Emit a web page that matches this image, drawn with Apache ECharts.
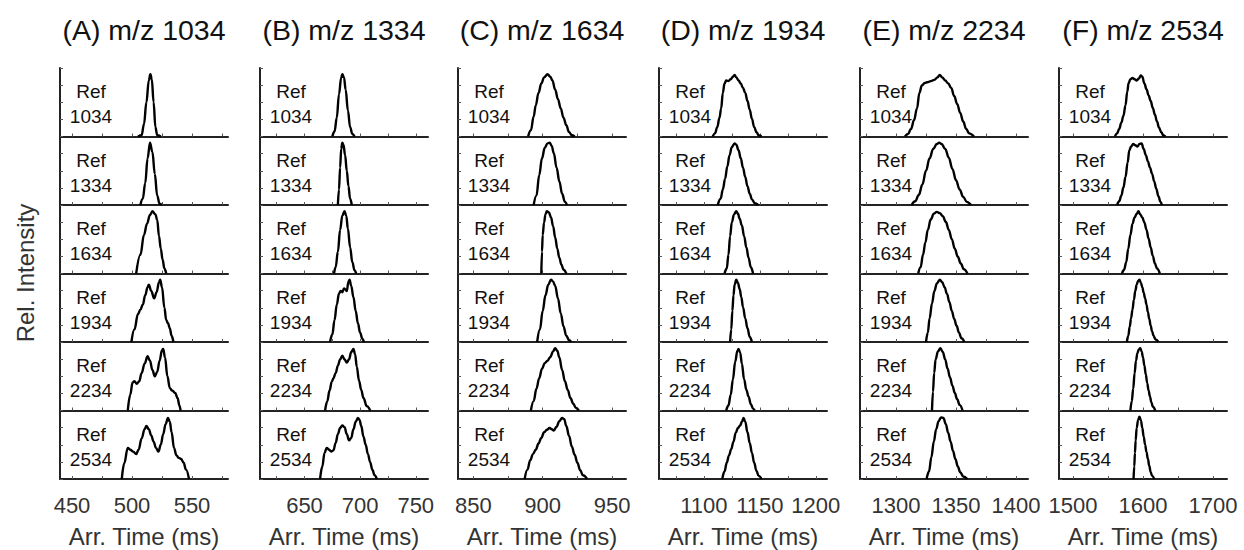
<!DOCTYPE html>
<html><head><meta charset="utf-8">
<script src="https://cdn.jsdelivr.net/npm/echarts@6/dist/echarts.min.js"></script>
<style>html,body{margin:0;padding:0;background:#fff}#chart{width:1244px;height:550px}</style>
</head><body><div id="chart"></div>
<script>
// ---------------- data ----------------
const columnTitles = ['(A) m/z 1034', '(B) m/z 1334', '(C) m/z 1634', '(D) m/z 1934', '(E) m/z 2234', '(F) m/z 2534'];
const refLabels = ['1034', '1334', '1634', '1934', '2234', '2534'];
const xMin = [440, 610, 839, 1060, 1270, 1480];
const xMax = [580, 761, 960, 1210, 1410, 1720];
const xTickValues = [
  [450, 475, 500, 525, 550, 575],
  [625, 650, 675, 700, 725, 750],
  [850, 875, 900, 925, 950],
  [1075, 1100, 1125, 1150, 1175, 1200],
  [1275, 1300, 1325, 1350, 1375, 1400],
  [1500, 1550, 1600, 1650, 1700]
];
const xLabelValues = [
  [450, 500, 550],
  [650, 700, 750],
  [850, 900, 950],
  [1100, 1150, 1200],
  [1300, 1350, 1400],
  [1500, 1600, 1700]
];
const yMax = 1.1;
const xAxisName = 'Arr. Time (ms)';
const yAxisName = 'Rel. Intensity';

// arrival-time profiles [time ms, relative intensity], one list per reference row
const profilesA = [
  [[505,0],[508,0.02],[510,0.2],[512,0.55],[514,0.9],[515.3,1],[516.5,0.92],[518,0.55],[519.5,0.15],[521,0.02],[524,0]],
  [[507,0],[509,0.1],[511,0.35],[513,0.75],[515,1],[517,0.85],[519,0.5],[521,0.15],[523,0.02],[525,0]],
  [[503.5,0],[507,0.3],[510,0.62],[512.5,0.8],[515,0.94],[517,1],[519.5,0.95],[521,0.86],[522.5,0.6],[524,0.4],[525.5,0.22],[527,0.08],[528.5,0]],
  [[499.5,0],[502,0.2],[505,0.45],[507,0.52],[509,0.6],[511,0.75],[513,0.88],[514,0.92],[516,0.82],[518.5,0.7],[520.5,0.8],[522.5,0.96],[523.5,1],[525,0.88],[527,0.55],[528.5,0.35],[530,0.3],[531.5,0.22],[533,0.1],[534.5,0]],
  [[496.5,0],[498.5,0.25],[500.5,0.45],[502,0.47],[504,0.43],[506,0.47],[508,0.6],[510.5,0.75],[513,0.87],[515,0.8],[517,0.65],[519,0.55],[521,0.62],[523,0.8],[525,0.97],[526,0.99],[527.5,0.85],[529.5,0.55],[531.5,0.36],[533.5,0.32],[536,0.28],[538,0.2],[539.5,0.08],[540.5,0]],
  [[491.5,0],[493.5,0.25],[496.5,0.5],[498.5,0.47],[501,0.44],[503.5,0.4],[505.5,0.47],[508,0.65],[510.5,0.8],[512,0.85],[514,0.8],[516,0.7],[518,0.6],[520,0.5],[522,0.44],[524,0.55],[526,0.72],[528,0.88],[530,0.98],[531.5,0.92],[533,0.75],[535,0.5],[537,0.38],[539,0.34],[541,0.32],[543,0.26],[545,0.15],[547.5,0]]
];
const profilesB = [
  [[675,0],[677,0.08],[679,0.3],[681,0.68],[683,0.95],[684,1],[685.5,0.95],[687,0.75],[689,0.42],[691,0.15],[693,0.04],[695,0]],
  [[680,0],[681,0.25],[682,0.6],[683,0.9],[684,1],[685,0.97],[686.5,0.8],[688,0.55],[689.5,0.3],[691,0.1],[692.5,0]],
  [[676.5,0],[678,0.1],[680,0.35],[682,0.7],[684,0.93],[686,1],[687.5,0.93],[689,0.72],[691,0.42],[693,0.18],[695,0.05],[696.5,0]],
  [[673,0],[675,0.12],[677,0.35],[679,0.6],[681,0.78],[682.5,0.82],[684,0.8],[685.5,0.86],[687,0.84],[688,0.82],[689.5,0.97],[690.5,1],[692,0.9],[694,0.72],[696,0.5],[698,0.3],[700,0.15],[702,0.05],[703.5,0]],
  [[668.5,0],[670.5,0.15],[672.5,0.32],[674.5,0.46],[676,0.52],[678,0.6],[680,0.72],[682,0.82],[684,0.88],[686,0.82],[688,0.77],[690,0.82],[692,0.94],[694,0.99],[695.5,0.9],[697,0.7],[699,0.48],[701,0.33],[703,0.2],[706,0.07],[709,0]],
  [[664,0],[666,0.2],[668,0.42],[670,0.5],[672,0.47],[674,0.44],[676,0.46],[678,0.58],[680,0.72],[682,0.82],[684,0.86],[686,0.83],[688,0.72],[690,0.62],[692,0.66],[694,0.8],[696,0.92],[698,0.98],[699.5,0.95],[701,0.85],[703,0.68],[705,0.55],[707,0.4],[709,0.27],[711,0.15],[713,0.06],[715,0]]
];
const profilesC = [
  [[889.5,0],[891.5,0.1],[893.5,0.32],[895,0.5],[897,0.7],[899,0.85],[901,0.95],[903.5,1],[905.5,0.96],[907,0.9],[909,0.75],[911,0.6],[913,0.45],[915,0.3],[917,0.18],[919,0.07],[921,0.02],[923,0]],
  [[893.5,0],[895.5,0.15],[897.5,0.48],[899.5,0.75],[901.5,0.92],[903.5,0.99],[905,1],[906.5,0.95],[908,0.83],[910,0.6],[912,0.38],[914,0.18],[916,0.05],[917.5,0]],
  [[899,0],[899.5,0.35],[900,0.62],[901,0.82],[902,0.95],[903,1],[904.5,0.98],[906,0.9],[907.5,0.76],[909,0.58],[910.5,0.4],[912,0.25],[913.5,0.14],[915,0.06],[917,0]],
  [[896,0],[898,0.2],[900,0.5],[902,0.75],[904,0.92],[906,1],[907.5,0.97],[909,0.9],[911,0.7],[913,0.46],[915,0.25],[917,0.1],[919,0.03],[920.5,0]],
  [[891.5,0],[893.5,0.15],[895.5,0.35],[897.5,0.52],[899.5,0.67],[901.5,0.76],[903.5,0.8],[905.5,0.86],[907.5,0.95],[909,1],[910.5,0.96],[912,0.85],[914,0.65],[916,0.47],[918,0.33],[920,0.2],[922,0.11],[924,0.04],[926,0]],
  [[887,0],[889,0.15],[891,0.3],[893,0.4],[895,0.47],[897,0.57],[899,0.66],[901,0.75],[903,0.79],[905,0.82],[906.5,0.8],[908,0.78],[910,0.84],[912,0.93],[914,0.98],[915.5,0.96],[917,0.85],[919,0.69],[921,0.52],[923,0.39],[925,0.26],[927,0.14],[929,0.06],[932,0]]
];
const profilesD = [
  [[1108,0],[1110,0.05],[1112,0.15],[1114,0.3],[1115.5,0.45],[1117,0.7],[1118.5,0.85],[1120,0.9],[1122,0.89],[1124,0.92],[1126,0.96],[1127.5,0.99],[1129,0.95],[1131,0.9],[1133,0.85],[1135,0.78],[1137,0.7],[1139,0.57],[1141,0.43],[1143,0.28],[1145,0.15],[1147,0.07],[1149,0.02],[1151.5,0]],
  [[1112.5,0],[1115,0.1],[1117,0.25],[1119,0.42],[1121,0.62],[1123,0.8],[1125,0.93],[1127.5,0.99],[1129,0.97],[1131,0.88],[1133,0.75],[1135,0.6],[1137,0.45],[1139,0.3],[1141,0.18],[1143,0.09],[1145.5,0.03],[1148.5,0]],
  [[1118.5,0],[1120.5,0.08],[1122,0.3],[1123.5,0.6],[1125,0.82],[1127,0.95],[1129,1],[1130.5,0.96],[1132,0.88],[1134,0.77],[1136,0.6],[1138,0.42],[1140,0.25],[1142,0.1],[1144,0]],
  [[1123.5,0],[1124.5,0.2],[1125.5,0.5],[1126.5,0.75],[1127.5,0.92],[1129,1],[1130.5,0.95],[1132,0.85],[1133.5,0.72],[1135,0.56],[1137,0.38],[1139,0.22],[1141,0.08],[1143,0]],
  [[1120,0],[1122,0.08],[1124,0.25],[1126,0.5],[1128,0.78],[1130,0.96],[1131,0.99],[1132.5,0.93],[1134,0.75],[1136,0.5],[1138,0.33],[1140,0.22],[1142,0.1],[1144,0.03],[1145.5,0]],
  [[1116.5,0],[1118.5,0.12],[1120.5,0.26],[1122.5,0.38],[1124.5,0.48],[1126.5,0.6],[1128.5,0.74],[1130.5,0.82],[1132.5,0.86],[1134,0.92],[1135.5,0.98],[1137,0.92],[1139,0.75],[1141,0.58],[1143,0.42],[1145,0.26],[1147,0.13],[1149,0.05],[1151.5,0]]
];
const profilesE = [
  [[1307.5,0],[1310,0.04],[1312.5,0.12],[1315,0.26],[1317.5,0.45],[1319.5,0.7],[1321.5,0.82],[1324,0.86],[1326,0.87],[1329,0.89],[1332,0.91],[1334.5,0.95],[1336.5,0.99],[1338.5,0.95],[1341,0.9],[1343.5,0.85],[1346,0.78],[1348.5,0.65],[1351,0.52],[1353.5,0.38],[1356,0.24],[1358.5,0.12],[1361,0.05],[1365,0]],
  [[1313,0],[1316,0.06],[1319,0.16],[1322,0.33],[1325,0.55],[1328,0.75],[1331,0.9],[1334,0.98],[1336,1],[1338,0.98],[1341,0.9],[1344,0.76],[1347,0.58],[1350,0.4],[1353,0.25],[1356,0.13],[1359,0.05],[1362.5,0]],
  [[1318.5,0],[1320.5,0.1],[1322.5,0.3],[1324.5,0.5],[1326.5,0.7],[1329,0.87],[1331.5,0.96],[1334,0.99],[1336.5,0.97],[1339,0.92],[1341.5,0.83],[1344,0.7],[1346.5,0.55],[1349,0.4],[1351.5,0.27],[1354,0.16],[1356.5,0.07],[1359.5,0]],
  [[1325,0],[1326.5,0.15],[1328,0.38],[1330,0.62],[1332,0.82],[1334,0.94],[1336.5,1],[1338.5,0.96],[1340.5,0.88],[1342.5,0.77],[1344.5,0.64],[1346.5,0.5],[1348.5,0.37],[1350.5,0.26],[1352.5,0.15],[1354.5,0.06],[1357,0]],
  [[1330,0],[1330.8,0.3],[1331.8,0.6],[1333,0.82],[1335,0.95],[1337,1],[1339,0.94],[1341,0.82],[1343,0.67],[1345,0.53],[1347,0.4],[1349,0.28],[1351,0.18],[1353,0.09],[1355.5,0]],
  [[1325.5,0],[1327.5,0.12],[1329.5,0.35],[1331.5,0.6],[1333.5,0.8],[1335.5,0.93],[1337.5,0.99],[1339.5,0.98],[1341.5,0.88],[1343.5,0.74],[1345.5,0.6],[1347.5,0.45],[1349.5,0.32],[1351.5,0.2],[1353.5,0.11],[1356,0.04],[1359.5,0]]
];
const profilesF = [
  [[1560,0],[1563,0.05],[1566,0.12],[1569,0.22],[1572,0.33],[1575,0.5],[1577.5,0.72],[1579.5,0.86],[1582,0.92],[1585,0.94],[1588,0.92],[1591,0.9],[1594,0.93],[1597,0.98],[1599,0.96],[1602,0.85],[1605,0.76],[1608,0.66],[1611,0.57],[1614,0.46],[1617,0.35],[1620,0.24],[1623,0.14],[1626,0.07],[1629,0.02],[1632,0]],
  [[1563,0],[1566,0.06],[1569,0.15],[1572,0.28],[1575,0.45],[1578,0.68],[1580.5,0.88],[1583,0.94],[1586,0.98],[1589,0.96],[1592,0.94],[1595,0.98],[1598,0.99],[1601,0.9],[1604,0.8],[1607,0.7],[1610,0.6],[1613,0.5],[1616,0.38],[1619,0.26],[1622,0.14],[1625,0.05],[1627,0]],
  [[1570,0],[1573,0.06],[1576,0.18],[1579,0.4],[1582,0.62],[1585,0.8],[1588,0.9],[1591,0.96],[1593.5,1],[1596,0.95],[1599,0.9],[1602,0.82],[1605,0.7],[1608,0.56],[1611,0.42],[1614,0.28],[1617,0.16],[1620,0.08],[1624,0]],
  [[1577,0],[1579,0.1],[1581,0.24],[1583,0.38],[1585,0.52],[1587,0.68],[1589,0.82],[1591,0.92],[1593,0.98],[1595,1],[1597,0.95],[1599,0.88],[1601,0.79],[1603,0.7],[1605,0.6],[1607,0.48],[1609,0.37],[1611,0.26],[1613,0.17],[1615,0.1],[1618,0.04],[1622,0]],
  [[1582,0],[1584,0.15],[1586,0.35],[1588,0.6],[1590,0.8],[1592,0.92],[1594,0.98],[1596,1],[1598,0.95],[1600,0.85],[1602,0.72],[1604,0.58],[1606,0.44],[1608,0.32],[1610,0.22],[1612,0.13],[1614,0.06],[1617.5,0]],
  [[1586.5,0],[1587.5,0.2],[1588.5,0.42],[1589.5,0.62],[1591,0.82],[1593,0.95],[1595,1],[1597,0.94],[1599,0.82],[1601,0.68],[1603,0.55],[1605,0.43],[1607,0.32],[1609,0.21],[1611,0.11],[1613,0.05],[1616,0]]
];
const profilesByColumn = [profilesA, profilesB, profilesC, profilesD, profilesE, profilesF];

// ---------------- layout ----------------
const FONT = '"Liberation Sans", Arial, Helvetica, sans-serif';
const gridLefts = [60, 260, 458, 659, 860, 1059];
const gridWidth = 168;
const gridTop0 = 68;
const rowHeight = 68.5;

const grids = [], xAxes = [], yAxes = [], series = [], graphics = [], titles = [];
for (let c = 0; c < 6; c++) {
  titles.push({
    text: columnTitles[c], left: gridLefts[c] + gridWidth / 2, top: 15, textAlign: 'center', padding: 0,
    textStyle: { fontSize: 28.5, fontWeight: 'normal', color: '#111', fontFamily: FONT }
  });
  for (let r = 0; r < 6; r++) {
    const idx = c * 6 + r;
    const top = gridTop0 + r * rowHeight;
    const isBottom = r === 5;
    grids.push({ left: gridLefts[c], top: top, width: gridWidth, height: rowHeight });
    xAxes.push({
      gridIndex: idx, type: 'value', min: xMin[c], max: xMax[c],
      axisLine: { show: true, onZero: false, lineStyle: { color: '#222', width: 2 } },
      axisTick: { show: true, inside: true, length: 3, customValues: xTickValues[c], lineStyle: { color: '#555', width: 1 } },
      axisLabel: { show: isBottom, customValues: xLabelValues[c], fontSize: 22, color: '#333', margin: 15, fontFamily: FONT,
                   formatter: function (v) { return String(v); } },
      splitLine: { show: false },
      name: isBottom ? xAxisName : '', nameLocation: 'middle', nameGap: 45,
      nameTextStyle: { fontSize: 24, color: '#333', fontFamily: FONT }
    });
    yAxes.push({
      gridIndex: idx, type: 'value', min: 0, max: yMax, interval: yMax / 4,
      axisLine: { show: true, lineStyle: { color: '#222', width: 2 } },
      axisTick: { show: true, inside: true, length: 3, lineStyle: { color: '#555', width: 1 } },
      axisLabel: { show: false }, splitLine: { show: false }
    });
    series.push({
      type: 'line', xAxisIndex: idx, yAxisIndex: idx, data: profilesByColumn[c][r],
      showSymbol: false, symbol: 'none', smooth: 0.4, smoothMonotone: 'x',
      lineStyle: { color: '#000', width: 2.4 }, silent: true
    });
    graphics.push({
      type: 'text', x: gridLefts[c] + 31, y: top + 36,
      style: { text: 'Ref\n' + refLabels[r], fill: '#111', fontSize: 19, fontFamily: FONT,
               align: 'center', verticalAlign: 'middle', lineHeight: 25 }
    });
  }
}
graphics.push({
  type: 'text', x: 25, y: 273, rotation: Math.PI / 2,
  style: { text: yAxisName, fill: '#333', fontSize: 24, fontFamily: FONT, align: 'center', verticalAlign: 'middle' }
});

const chart = echarts.init(document.getElementById('chart'), null, { renderer: 'svg' });
chart.setOption({
  animation: false,
  backgroundColor: '#fff',
  textStyle: { fontFamily: FONT },
  title: titles,
  grid: grids,
  xAxis: xAxes,
  yAxis: yAxes,
  series: series,
  graphic: graphics
});
</script>
</body></html>
